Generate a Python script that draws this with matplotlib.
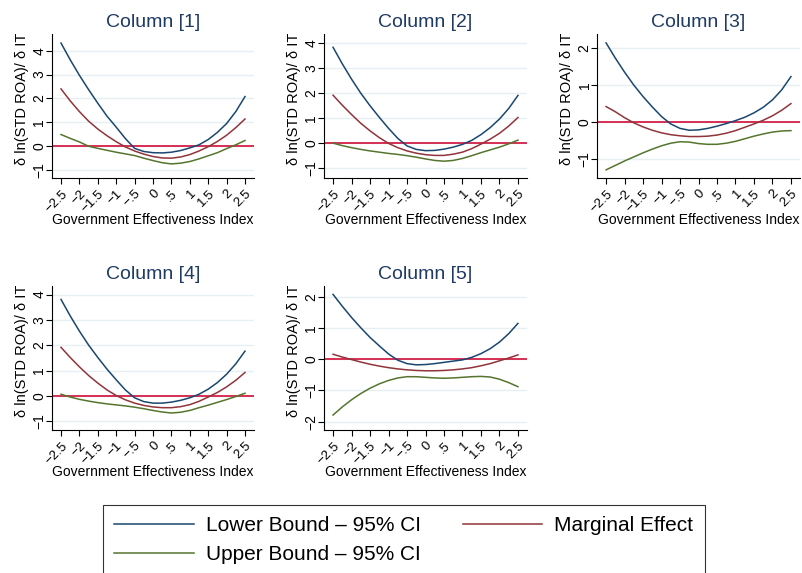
import numpy as np
import matplotlib
matplotlib.use("Agg")
import matplotlib.pyplot as plt
from matplotlib.lines import Line2D

plt.rcParams['font.family'] = ['Liberation Sans', 'DejaVu Sans']

# Government Effectiveness Index grid
gov_eff = [-2.5, -2.25, -2.0, -1.75, -1.5, -1.25, -1.0, -0.75, -0.5, -0.25, 0.0,
           0.25, 0.5, 0.75, 1.0, 1.25, 1.5, 1.75, 2.0, 2.25, 2.5]

titles = ["Column [1]", "Column [2]", "Column [3]", "Column [4]", "Column [5]"]

# Lower Bound - 95% CI (blue)
lower_1 = [4.32, 3.62, 2.97, 2.37, 1.8, 1.26, 0.8, 0.32, -0.09, -0.22, -0.27,
           -0.28, -0.25, -0.18, -0.07, 0.06, 0.28, 0.58, 0.95, 1.45, 2.08]
lower_2 = [3.83, 3.17, 2.56, 2.0, 1.5, 1.04, 0.6, 0.2, -0.1, -0.24, -0.29,
           -0.28, -0.23, -0.15, -0.04, 0.12, 0.35, 0.63, 0.97, 1.39, 1.91]
lower_3 = [2.14, 1.73, 1.35, 1.0, 0.69, 0.41, 0.15, -0.05, -0.17, -0.22, -0.21,
           -0.17, -0.11, -0.04, 0.04, 0.13, 0.25, 0.4, 0.6, 0.87, 1.23]
lower_4 = [3.81, 3.16, 2.56, 2.01, 1.52, 1.06, 0.64, 0.24, -0.07, -0.22, -0.28,
           -0.28, -0.24, -0.17, -0.07, 0.07, 0.27, 0.53, 0.86, 1.27, 1.77]
lower_5 = [2.08, 1.7, 1.34, 1.01, 0.7, 0.43, 0.17, -0.03, -0.14, -0.18, -0.17,
           -0.14, -0.1, -0.06, -0.02, 0.06, 0.18, 0.34, 0.55, 0.82, 1.15]

# Marginal Effect (red)
marginal_1 = [2.4, 1.9, 1.45, 1.05, 0.72, 0.44, 0.19, -0.03, -0.2, -0.33, -0.43,
              -0.49, -0.5, -0.45, -0.35, -0.2, -0.02, 0.2, 0.46, 0.78, 1.14]
marginal_2 = [1.92, 1.52, 1.15, 0.8, 0.5, 0.23, 0.0, -0.17, -0.3, -0.39, -0.45,
              -0.48, -0.48, -0.43, -0.35, -0.21, -0.03, 0.17, 0.4, 0.69, 1.03]
marginal_3 = [0.42, 0.28, 0.12, -0.02, -0.13, -0.22, -0.29, -0.34, -0.37, -0.39, -0.39,
              -0.38, -0.35, -0.3, -0.23, -0.14, -0.05, 0.05, 0.17, 0.32, 0.5]
marginal_4 = [1.92, 1.52, 1.15, 0.81, 0.51, 0.24, 0.02, -0.15, -0.28, -0.37, -0.43,
              -0.46, -0.46, -0.42, -0.34, -0.21, -0.04, 0.14, 0.36, 0.62, 0.93]
marginal_5 = [0.16, 0.07, -0.01, -0.09, -0.16, -0.22, -0.27, -0.31, -0.34, -0.36, -0.37,
              -0.37, -0.36, -0.34, -0.31, -0.27, -0.21, -0.14, -0.05, 0.04, 0.14]

# Upper Bound - 95% CI (green)
upper_1 = [0.49, 0.33, 0.18, 0.0, -0.09, -0.17, -0.25, -0.32, -0.39, -0.5, -0.6,
           -0.69, -0.74, -0.71, -0.64, -0.53, -0.4, -0.27, -0.1, 0.06, 0.24]
upper_2 = [0.01, -0.09, -0.17, -0.24, -0.3, -0.35, -0.4, -0.44, -0.49, -0.55, -0.62,
           -0.68, -0.71, -0.68, -0.6, -0.49, -0.37, -0.26, -0.15, -0.02, 0.13]
upper_3 = [-1.29, -1.17, -1.05, -0.94, -0.83, -0.73, -0.64, -0.57, -0.53, -0.54, -0.58,
           -0.6, -0.6, -0.57, -0.52, -0.45, -0.38, -0.32, -0.27, -0.24, -0.23]
upper_4 = [0.07, -0.04, -0.13, -0.2, -0.26, -0.31, -0.35, -0.39, -0.44, -0.5, -0.57,
           -0.63, -0.67, -0.64, -0.57, -0.46, -0.36, -0.25, -0.14, -0.02, 0.11]
upper_5 = [-1.79, -1.53, -1.3, -1.1, -0.93, -0.79, -0.68, -0.6, -0.56, -0.56, -0.58,
           -0.6, -0.61, -0.6, -0.58, -0.56, -0.55, -0.57, -0.64, -0.75, -0.88]

lowers = [lower_1, lower_2, lower_3, lower_4, lower_5]
marginals = [marginal_1, marginal_2, marginal_3, marginal_4, marginal_5]
uppers = [upper_1, upper_2, upper_3, upper_4, upper_5]

x_ticks = [-2.5, -2, -1.5, -1, -0.5, 0, 0.5, 1, 1.5, 2, 2.5]
x_ticklabels = ["\u22122.5", "\u22122", "\u22121.5", "\u22121", "\u2212.5", "0",
                ".5", "1", "1.5", "2", "2.5"]
y_ticks = [[-1, 0, 1, 2, 3, 4], [-1, 0, 1, 2, 3, 4], [-1, 0, 1, 2],
           [-1, 0, 1, 2, 3, 4], [-2, -1, 0, 1, 2]]
y_lims = [(-1.33, 4.7), (-1.38, 4.36), (-1.51, 2.38), (-1.34, 4.34), (-2.27, 2.35)]

# colours (Stata s2color)
c_lower = "#1a476f"
c_marg = "#90353b"
c_upper = "#55752f"
c_zero = "#d41f47"
c_grid = "#e6eff1"

W, H = 802, 573
fig = plt.figure(figsize=(W / 100, H / 100), dpi=100)

# axes boxes in pixels: left, right, top, bottom
boxes = [(52, 254, 34, 178), (324, 527, 34, 178), (597, 800, 34, 178),
         (52, 254, 286, 430), (324, 527, 286, 430)]

for i in range(5):
    l, r, t, b = boxes[i]
    ax = fig.add_axes([l / W, 1 - b / H, (r - l) / W, (b - t) / H])
    for yt in y_ticks[i]:
        ax.axhline(yt, color=c_grid, lw=1.0, zorder=0)
    ax.axhline(0, color=c_zero, lw=1.3, zorder=1)
    ax.plot(gov_eff, lowers[i], color=c_lower, lw=1.1, zorder=3)
    ax.plot(gov_eff, marginals[i], color=c_marg, lw=1.1, zorder=3)
    ax.plot(gov_eff, uppers[i], color=c_upper, lw=1.1, zorder=3)

    ax.set_xlim(-2.745, 2.745)
    ax.set_ylim(*y_lims[i])
    ax.set_xticks(x_ticks)
    ax.set_xticklabels(x_ticklabels, rotation=45, ha='right', va='top',
                       rotation_mode='anchor', fontsize=9.5)
    ax.set_yticks(y_ticks[i])
    ax.set_yticklabels(["\u2212" + str(-v) if v < 0 else str(v) for v in y_ticks[i]],
                       rotation=90, va='center', ha='center', fontsize=10)
    ax.tick_params(axis='both', direction='out', length=4, width=0.8, colors='black')
    ax.tick_params(axis='x', pad=3)
    ax.tick_params(axis='y', pad=5)
    for side in ['top', 'right']:
        ax.spines[side].set_visible(False)
    for side in ['left', 'bottom']:
        ax.spines[side].set_linewidth(0.8)

    ax.set_title(titles[i], fontsize=14, color="#1f3b63", pad=5)
    ax.set_xlabel("Government Effectiveness Index", fontsize=10)
    ax.xaxis.set_label_coords(0.5, -0.295)
    ax.xaxis.label.set_va('center')
    ax.set_ylabel("\u03b4 ln(STD ROA)/ \u03b4 IT", fontsize=10.5)
    ax.yaxis.set_label_coords(-0.15, 0.55)
    ax.yaxis.label.set_va('center')

handles = [Line2D([], [], color=c_lower, lw=1.1),
           Line2D([], [], color=c_upper, lw=1.1),
           Line2D([], [], color=c_marg, lw=1.1)]
labels = ["Lower Bound \u2013 95% CI", "Upper Bound \u2013 95% CI", "Marginal Effect"]
leg = fig.legend(handles, labels, ncol=2, loc='upper left',
                 bbox_to_anchor=(103 / W, 1 - 505 / H), fontsize=15,
                 frameon=True, fancybox=False, handlelength=3.8,
                 handletextpad=0.6, columnspacing=2.0, labelspacing=0.45,
                 borderpad=0.55, borderaxespad=0)
leg.get_frame().set_edgecolor('black')
leg.get_frame().set_linewidth(0.8)

fig.savefig("out.png", dpi=100, facecolor='white')
